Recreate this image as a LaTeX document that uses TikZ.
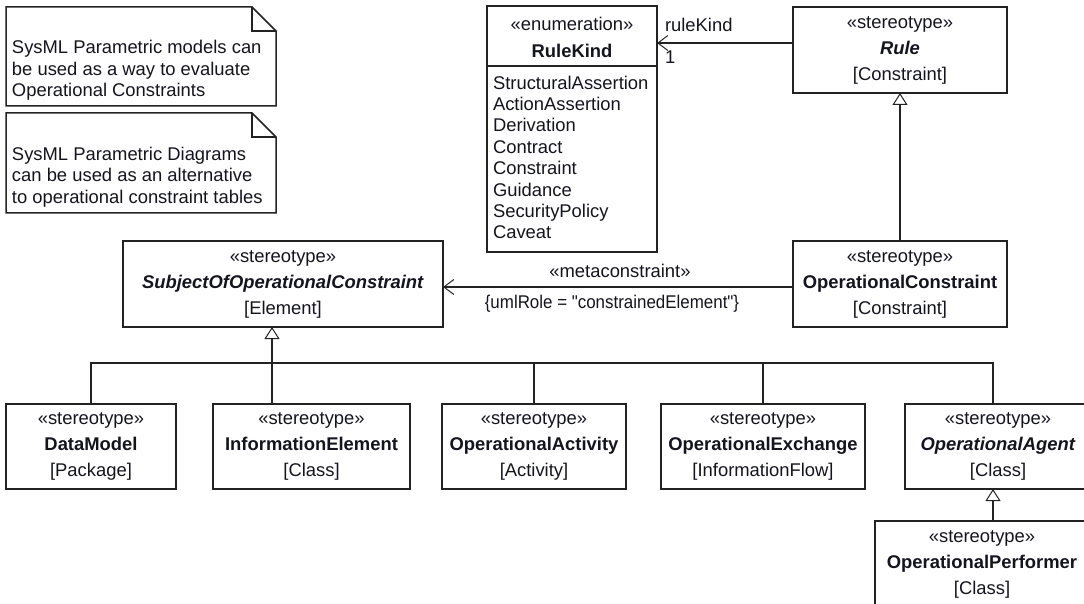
\documentclass[tikz,border=0pt]{standalone}
\usepackage{fontspec}
\setmainfont{Liberation Sans}[Ligatures=TeXOff]
\usetikzlibrary{arrows.meta}
\definecolor{linec}{RGB}{35,35,35}
\definecolor{txtc}{RGB}{20,20,30}
\newcommand{\fsb}{\fontsize{18.4}{26}\selectfont}
\newcommand{\fsl}{\fontsize{18.4}{21.4}\selectfont}
\begin{document}
\begin{tikzpicture}[x=1pt,y=-1pt,
  every node/.style={inner sep=0pt, outer sep=0pt, text=txtc},
  lne/.style={draw=linec, line width=1.5pt},
  boxst/.style={draw=linec, line width=1.5pt, minimum height=86pt, align=center, font=\fsb},
  gen/.style={draw=linec, line width=1.5pt, -{Triangle[open,length=12pt,width=15pt,fill=white,line width=1pt]}},
  assoc/.style={draw=linec, line width=1.2pt, -{Straight Barb[length=10pt,width=15pt,line width=1pt]}},
  txt/.style={font=\fsl, align=left},
]
\useasboundingbox (0,0) rectangle (1084,604);
\clip (0,0) rectangle (1084,604);

% notes
\node[minimum width=270pt, minimum height=99pt] (N1) at (141,56.5) {};
\draw[lne] (N1.north west) -- ([xshift=-24pt]N1.north east) -- ([yshift=-24pt]N1.north east) -- (N1.south east) -- (N1.south west) -- cycle;
\draw[lne] ([xshift=-24pt]N1.north east) |- ([yshift=-24pt]N1.north east);
\node[txt, anchor=west] (N1t) at (12,70.5) {SysML Parametric models can\\be used as a way to evaluate\\Operational Constraints};

\node[minimum width=270pt, minimum height=100pt] (N2) at (141,163) {};
\draw[lne] (N2.north west) -- ([xshift=-24pt]N2.north east) -- ([yshift=-24pt]N2.north east) -- (N2.south east) -- (N2.south west) -- cycle;
\draw[lne] ([xshift=-24pt]N2.north east) |- ([yshift=-24pt]N2.north east);
\node[txt, anchor=west] (N2t) at (12,177) {SysML Parametric Diagrams\\can be used as an alternative\\to operational constraint tables};

% enumeration
\node[draw=linec, line width=1.5pt, minimum width=170pt, minimum height=246pt] (RK) at (572,129) {};
\draw[lne] (RK.west |- 0,66) -- (RK.east |- 0,66);
\node[font=\fontsize{18.4}{27}\selectfont, align=center] (RKh) at (572,37) {«enumeration»\\\textbf{RuleKind}};
\node[txt, anchor=west] (RKi) at (493,157.5) {StructuralAssertion\\ActionAssertion\\Derivation\\Contract\\Constraint\\Guidance\\SecurityPolicy\\Caveat};

% stereotypes
\node[boxst, minimum width=214pt] (Rule) at (900,50) {«stereotype»\\\textbf{\textit{Rule}}\\{[Constraint]}};
\node[boxst, minimum width=214pt] (OC) at (900,284) {«stereotype»\\\textbf{OperationalConstraint}\\{[Constraint]}};
\node[boxst, minimum width=320pt] (Subj) at (283,284) {«stereotype»\\\textbf{\textit{SubjectOfOperationalConstraint}}\\{[Element]}};

\node[boxst, minimum width=170pt, minimum height=85pt] (DM) at (91,446.5) {«stereotype»\\\textbf{DataModel}\\{[Package]}};
\node[boxst, minimum width=197pt, minimum height=85pt] (IE) at (311.5,446.5) {«stereotype»\\\textbf{InformationElement}\\{[Class]}};
\node[boxst, minimum width=184pt, minimum height=85pt] (OA) at (534,446.5) {«stereotype»\\\textbf{OperationalActivity}\\{[Activity]}};
\node[boxst, minimum width=204pt, minimum height=85pt] (OE) at (763,446.5) {«stereotype»\\\textbf{OperationalExchange}\\{[InformationFlow]}};
\node[boxst, minimum width=186pt, minimum height=85pt] (AG) at (998,446.5) {«stereotype»\\\textbf{\textit{OperationalAgent}}\\{[Class]}};
\node[boxst, minimum width=214pt, minimum height=86pt] (OP) at (982,564) {«stereotype»\\\textbf{OperationalPerformer}\\{[Class]}};

% connectors
\coordinate (bus) at (0,363);
\coordinate (sx) at (272,0);
\coordinate (ax) at (993,0);
\draw[lne] (DM.north) |- (ax |- bus) -- (ax |- AG.north);
\draw[lne] (OA.north) -- (OA.north |- bus);
\draw[lne] (OE.north) -- (OE.north |- bus);
\draw[lne] (sx |- IE.north) -- (sx |- bus);
\draw[gen] (sx |- bus) -- (sx |- Subj.south);
\draw[gen] (OC.north) -- (Rule.south);
\draw[gen] (ax |- OP.north) -- (ax |- AG.south);
\draw[assoc] ([yshift=7pt]Rule.west) -- ([yshift=7pt]Rule.west -| RK.east);
\draw[assoc] ([yshift=-3pt]OC.west) -- ([yshift=-3pt]OC.west -| Subj.east);

% labels
\node[font=\fsb, anchor=west] (rkl) at (665,25) {ruleKind};
\node[font=\fsb, anchor=west] (one) at (665,57) {1};
\node[font=\fsb] (mc) at (620,271) {«metaconstraint»};
\node[font=\fsb] (ur) at (612,304) {\scalebox{0.92}[1]{\{umlRole = "constrainedElement"\}}};
\end{tikzpicture}
\end{document}
